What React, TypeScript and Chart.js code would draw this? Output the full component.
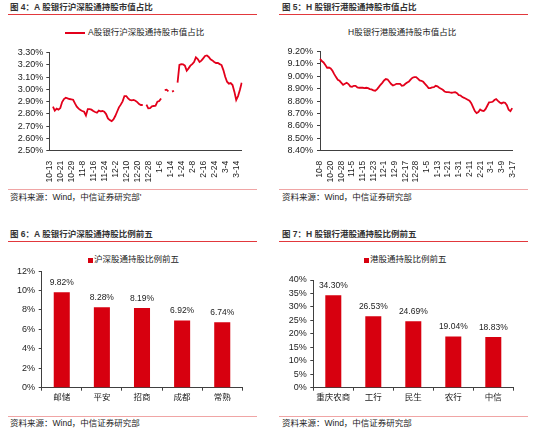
import React, { useEffect, useRef } from 'react';
import { Chart, registerables } from 'chart.js';

Chart.register(...registerables);

const FONT = '"Liberation Sans", Arial, "Noto Sans CJK SC", sans-serif';
const LINE_RED = '#e3001b';
const BAR_RED = '#d7000f';
const AXIS = '#404040';
const TXT = '#222';

// ---------- data ----------
const TICK_EVERY = 6;

const aShareTicks = ['10-13', '10-21', '10-29', '11-8', '11-16', '11-24', '12-2', '12-10', '12-20', '12-28', '1-6', '1-14', '1-24', '2-8', '2-16', '2-24', '3-4', '3-14'];
const aShareRatio: (number | null)[] = [
  null, null, 2.859, 2.827, 2.843, 2.835, 2.848, 2.897, 2.922, 2.933,
  2.927, 2.922, 2.919, 2.916, 2.886, 2.859, 2.843, 2.832, 2.824, 2.818,
  2.788, 2.84, 2.84, 2.835, 2.824, 2.816, 2.81, 2.827, 2.821, 2.824,
  2.818, 2.799, 2.764, 2.75, 2.742, 2.756, 2.783, 2.818, 2.854, 2.876,
  2.903, 2.946, 2.946, 2.927, 2.914, 2.911, 2.914, 2.908, 2.897, 2.881,
  2.873, 2.873, null, 2.876, 2.846, 2.848, 2.862, 2.865, 2.867, 2.9,
  2.905, 2.927, null, 2.995, 2.998, 2.984, null, 2.982, 2.99, null,
  3.055, 3.2, 3.207, 3.205, 3.194, 3.153, 3.172, 3.194, 3.207, 3.224,
  3.262, 3.248, 3.224, 3.235, 3.254, 3.273, 3.278, 3.265, 3.246, 3.237,
  3.224, 3.216, 3.216, 3.207, 3.199, 3.158, 3.104, 3.063, 3.047, 3.052,
  3.036, 2.982, 2.914, 2.946, 2.995, 3.055,
];

const hShareTicks = ['10-8', '10-20', '10-28', '11-5', '11-15', '11-23', '12-1', '12-9', '12-17', '12-28', '1-5', '1-13', '1-21', '1-31', '2-11', '2-21', '3-1', '3-9', '3-17'];
const hShareRatio: number[] = [
  9.141, 9.122, 9.111, 9.09, 9.068, 9.07, 9.063, 9.044, 9.017, 8.993,
  8.971, 8.963, 8.947, 8.931, 8.939, 8.947, 8.937, 8.918, 8.915, 8.923,
  8.923, 8.91, 8.907, 8.907, 8.907, 8.904, 8.907, 8.904, 8.896, 8.894,
  8.885, 8.883, 8.894, 8.912, 8.931, 8.947, 8.966, 8.977, 8.974, 8.955,
  8.937, 8.926, 8.931, 8.939, 8.939, 8.939, 8.923, 8.926, 8.939, 8.95,
  8.958, 8.974, 8.988, 8.993, 8.993, 8.98, 8.966, 8.963, 8.955, 8.939,
  8.923, 8.904, 8.904, 8.91, 8.912, 8.923, 8.918, 8.907, 8.899, 8.891,
  8.877, 8.872, 8.872, 8.869, 8.867, 8.869, 8.872, 8.864, 8.848, 8.845,
  8.832, 8.826, 8.818, 8.81, 8.802, 8.783, 8.751, 8.719, 8.703, 8.711,
  8.732, 8.722, 8.719, 8.735, 8.762, 8.789, 8.791, 8.794, 8.808, 8.816,
  8.802, 8.789, 8.781, 8.789, 8.786, 8.767, 8.73, 8.719, 8.743,
];

const aBanks = ['邮储', '平安', '招商', '成都', '常熟'];
const aHolding = [9.82, 8.28, 8.19, 6.92, 6.74];
const hBanks = ['重庆农商', '工行', '民生', '农行', '中信'];
const hHolding = [34.3, 26.53, 24.69, 19.04, 18.83];

// ---------- helpers ----------
const sparseLabels = (n: number, ticks: string[]) =>
  Array.from({ length: n }, (_, i) => (i % TICK_EVERY === 0 ? ticks[i / TICK_EVERY] ?? '' : ''));

function lineConfig(opts: {
  labels: string[]; values: (number | null)[]; min: number; max: number; step: number;
  yWidth: number; xHeight: number; yPad: number; padding: any;
}): any {
  return {
    type: 'line',
    data: {
      labels: opts.labels,
      datasets: [{
        data: opts.values, borderColor: LINE_RED, borderWidth: 1.8, pointRadius: 0,
        tension: 0, fill: false, spanGaps: false,
      }],
    },
    options: {
      animation: false, responsive: false, devicePixelRatio: 1,
      layout: { padding: opts.padding },
      plugins: { legend: { display: false }, tooltip: { enabled: false } },
      scales: {
        x: {
          type: 'category', offset: false,
          border: { color: AXIS, width: 1 },
          grid: { display: false },
          ticks: {
            autoSkip: false, minRotation: 90, maxRotation: 90, padding: 2, color: TXT,
            font: { family: FONT, size: 8.5 },
            callback(this: any, v: any) { const l = this.getLabelForValue(v); return l ? l : null; },
          },
          afterFit(s: any) { s.height = opts.xHeight; },
        },
        y: {
          min: opts.min, max: opts.max,
          border: { color: AXIS, width: 1 },
          grid: { drawOnChartArea: false, drawTicks: true, tickLength: 3, color: AXIS },
          ticks: {
            autoSkip: false, stepSize: opts.step, padding: opts.yPad, color: TXT,
            font: { family: FONT, size: 9 },
            callback: (v: any) => Number(v).toFixed(2) + '%',
          },
          afterFit(s: any) { s.width = opts.yWidth; },
        },
      },
    },
  };
}

const barValueLabels = {
  id: 'barValueLabels',
  afterDatasetsDraw(chart: any) {
    const ctx = chart.ctx;
    const meta = chart.getDatasetMeta(0);
    const vals = chart.data.datasets[0].data;
    ctx.save();
    ctx.font = `8.5px ${FONT}`;
    ctx.fillStyle = TXT;
    ctx.textAlign = 'center';
    ctx.textBaseline = 'middle';
    meta.data.forEach((el: any, i: number) => {
      ctx.fillText(Number(vals[i]).toFixed(2) + '%', el.x, el.y - 9.7);
    });
    ctx.restore();
  },
};

function barConfig(opts: {
  labels: string[]; values: number[]; max: number; step: number;
  yWidth: number; xHeight: number; yPad: number; padding: any;
}): any {
  return {
    type: 'bar',
    data: {
      labels: opts.labels,
      datasets: [{ data: opts.values, backgroundColor: BAR_RED, barPercentage: 0.4, categoryPercentage: 1 }],
    },
    plugins: [barValueLabels],
    options: {
      animation: false, responsive: false, devicePixelRatio: 1,
      layout: { padding: opts.padding },
      plugins: { legend: { display: false }, tooltip: { enabled: false } },
      scales: {
        x: {
          border: { color: AXIS, width: 1 },
          grid: { offset: true, drawOnChartArea: false, drawTicks: true, tickLength: 3, color: AXIS },
          ticks: { autoSkip: false, minRotation: 0, maxRotation: 0, padding: 2, color: TXT, font: { family: FONT, size: 8.5 } },
          afterFit(s: any) { s.height = opts.xHeight; },
        },
        y: {
          min: 0, max: opts.max,
          border: { color: AXIS, width: 1 },
          grid: { drawOnChartArea: false, drawTicks: true, tickLength: 3, color: AXIS },
          ticks: {
            autoSkip: false, stepSize: opts.step, padding: opts.yPad, color: TXT,
            font: { family: FONT, size: 9 },
            callback: (v: any) => v + '%',
          },
          afterFit(s: any) { s.width = opts.yWidth; },
        },
      },
    },
  };
}

function ChartBox({ left, top, width, height, make }: { left: number; top: number; width: number; height: number; make: () => any }) {
  const ref = useRef<HTMLCanvasElement>(null);
  useEffect(() => {
    const chart = new Chart(ref.current as HTMLCanvasElement, make());
    return () => chart.destroy();
  }, []);
  return (
    <canvas ref={ref} width={width} height={height}
      style={{ position: 'absolute', left, top, width, height }} />
  );
}

function Txt({ x, cy, size, children, bold, color }: { x: number; cy: number; size: number; children: any; bold?: boolean; color?: string }) {
  return (
    <div style={{
      position: 'absolute', left: x, top: cy - size * 0.65, fontSize: size, lineHeight: `${size * 1.3}px`,
      fontFamily: FONT, fontWeight: bold ? 700 : 400, color: color || TXT, whiteSpace: 'nowrap',
    }}>{children}</div>
  );
}

function HLine({ x1, x2, y, color }: { x1: number; x2: number; y: number; color: string }) {
  return <div style={{ position: 'absolute', left: x1, top: y, width: x2 - x1, height: 1, background: color }} />;
}

const TITLE_RED = '#e2383c';
const SOURCE_PINK = '#f0a5a5';
const SOURCE = '资料来源：Wind，中信证券研究部';

export default function App() {
  const aLabels = sparseLabels(aShareRatio.length, aShareTicks);
  const hLabels = sparseLabels(hShareRatio.length, hShareTicks);
  return (
    <div style={{ position: 'absolute', left: 0, top: 0, width: 550, height: 440, background: '#fff', overflow: 'hidden' }}>
      {/* Top-left */}
      <Txt x={10} cy={8} size={8.5} bold color="#333">图 4：A 股银行沪深股通持股市值占比</Txt>
      <HLine x1={8} x2={257} y={14} color={TITLE_RED} />
      <div style={{ position: 'absolute', left: 65, top: 32, width: 20, height: 2, background: LINE_RED }} />
      <Txt x={88} cy={33} size={8.5}>A股银行沪深股通持股市值占比</Txt>
      <ChartBox left={0} top={42} width={260} height={143} make={() => lineConfig({
        labels: aLabels, values: aShareRatio, min: 2.5, max: 3.3, step: 0.1,
        yWidth: 49.3, xHeight: 34.3, yPad: 3, padding: { top: 10.7, right: 18.3, left: 0, bottom: 0 },
      })} />
      <HLine x1={8} x2={257} y={189} color={SOURCE_PINK} />
      <Txt x={10} cy={198} size={8.5}>{SOURCE + "'"}</Txt>

      {/* Top-right */}
      <Txt x={282} cy={8} size={8.5} bold color="#333">图 5：H 股银行港股通持股市值占比</Txt>
      <HLine x1={279} x2={528} y={14} color={TITLE_RED} />
      <Txt x={348} cy={33} size={8.5}>H股银行港股通持股市值占比</Txt>
      <ChartBox left={275} top={42} width={260} height={143} make={() => lineConfig({
        labels: hLabels, values: hShareRatio, min: 8.4, max: 9.2, step: 0.1,
        yWidth: 45, xHeight: 34.3, yPad: 4, padding: { top: 9.3, right: 22.8, left: 0, bottom: 0 },
      })} />
      <HLine x1={279} x2={528} y={189} color={SOURCE_PINK} />
      <Txt x={282} cy={198} size={8.5}>{SOURCE}</Txt>

      {/* Bottom-left */}
      <Txt x={10} cy={235} size={8.5} bold color="#333">图 6：A 股银行沪深股通持股比例前五</Txt>
      <HLine x1={8} x2={257} y={241} color={TITLE_RED} />
      <div style={{ position: 'absolute', left: 88, top: 258, width: 4.5, height: 4.5, background: BAR_RED }} />
      <Txt x={94} cy={260} size={8.5}>沪深股通持股比例前五</Txt>
      <ChartBox left={0} top={262} width={260} height={148} make={() => barConfig({
        labels: aBanks, values: aHolding, max: 12, step: 2,
        yWidth: 41.7, xHeight: 22.3, yPad: 3.7, padding: { top: 8.7, right: 17.7, left: 0, bottom: 0 },
      })} />
      <HLine x1={8} x2={257} y={416} color={SOURCE_PINK} />
      <Txt x={10} cy={424} size={8.5}>{SOURCE}</Txt>

      {/* Bottom-right */}
      <Txt x={282} cy={235} size={8.5} bold color="#333">图 7：H 股银行港股通持股比例前五</Txt>
      <HLine x1={279} x2={528} y={241} color={TITLE_RED} />
      <div style={{ position: 'absolute', left: 364, top: 258, width: 4.5, height: 4.5, background: BAR_RED }} />
      <Txt x={370} cy={260} size={8.5}>港股通持股比例前五</Txt>
      <ChartBox left={275} top={262} width={260} height={148} make={() => barConfig({
        labels: hBanks, values: hHolding, max: 40, step: 5,
        yWidth: 38.3, xHeight: 22.3, yPad: 3.6, padding: { top: 18, right: 21.7, left: 0, bottom: 0 },
      })} />
      <HLine x1={279} x2={528} y={416} color={SOURCE_PINK} />
      <Txt x={282} cy={424} size={8.5}>{SOURCE}</Txt>
    </div>
  );
}
